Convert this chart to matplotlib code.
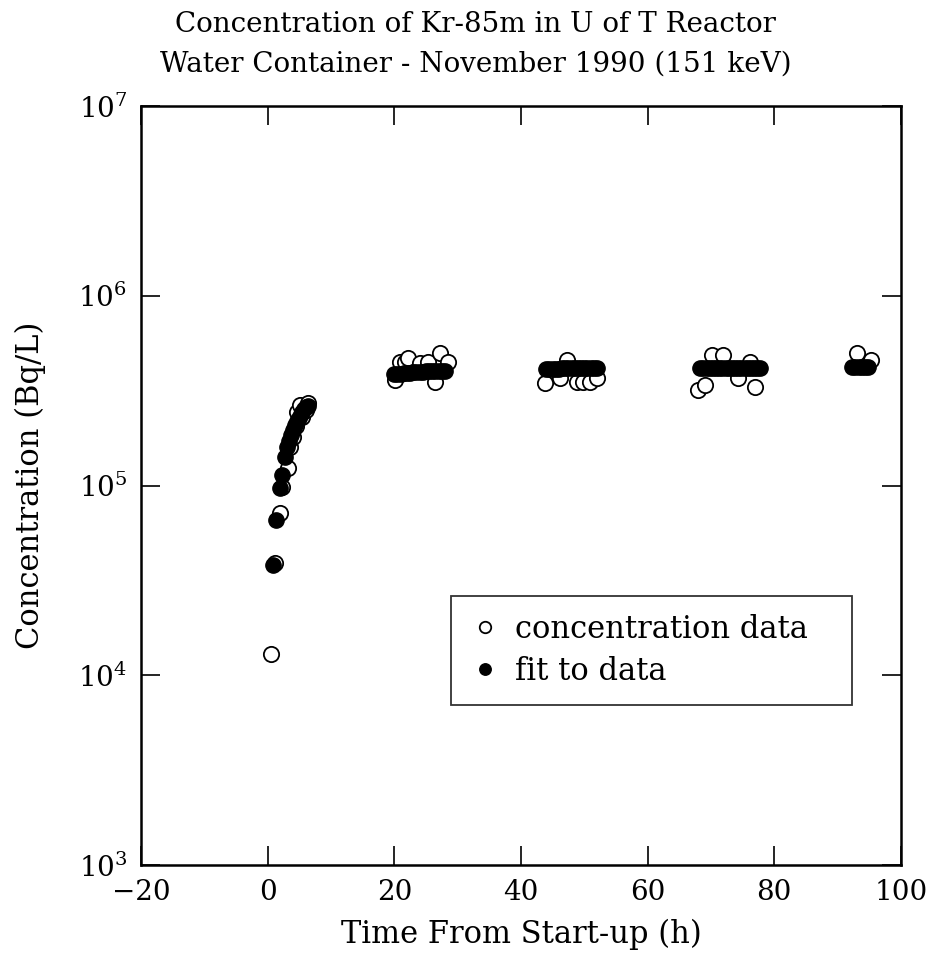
import matplotlib
matplotlib.use("Agg")
import matplotlib.pyplot as plt

# measured concentration (open circles)
data_t = [0.6, 1.2, 1.9, 2.2, 3.2, 3.5, 4.0, 4.4, 4.6, 5.1, 5.5, 6.0, 6.4,
          20.1, 20.9, 21.7, 22.2, 24.1, 25.3, 26.4, 27.2, 28.5,
          43.8, 46.2, 47.3, 48.9, 49.8, 50.9, 52.0,
          68.0, 69.1, 70.2, 71.9, 74.2, 76.2, 77.0,
          93.1, 95.2]
data_c = [1.3e4, 3.9e4, 7.2e4, 9.8e4, 1.23e5, 1.6e5, 1.8e5, 2.05e5, 2.45e5, 2.65e5, 2.3e5, 2.5e5, 2.72e5,
          3.6e5, 4.5e5, 4.45e5, 4.7e5, 4.4e5, 4.45e5, 3.5e5, 5.0e5, 4.45e5,
          3.47e5, 3.7e5, 4.6e5, 3.5e5, 3.5e5, 3.5e5, 3.7e5,
          3.18e5, 3.4e5, 4.9e5, 4.9e5, 3.7e5, 4.5e5, 3.3e5,
          5.0e5, 4.6e5]

# fitted values (filled circles)
fit_t = [0.8, 1.3, 1.9, 2.3, 2.7, 3.1, 3.4, 3.7, 4.0, 4.3, 4.6, 4.9, 5.2, 5.5, 5.8, 6.1, 6.4,
         20.0, 20.5, 21.0, 21.5, 22.0, 22.5, 23.0, 23.5, 24.0, 24.5, 25.0, 25.5, 26.0, 26.5, 27.0, 27.5, 28.0,
         44.0, 44.5, 45.0, 45.5, 46.0, 46.5, 47.0, 47.5, 48.0, 48.5, 49.0, 49.5, 50.0, 50.5, 51.0, 51.5, 52.0,
         68.3, 68.8, 69.3, 69.8, 70.3, 70.8, 71.3, 71.8, 72.3, 72.8, 73.3, 73.8, 74.3, 74.8, 75.3, 75.8,
         76.3, 76.8, 77.3, 77.8,
         92.3, 92.8, 93.3, 93.8, 94.3, 94.8]
fit_c = [3.8e4, 6.6e4, 9.7e4, 1.13e5, 1.41e5, 1.6e5, 1.72e5, 1.85e5, 1.97e5, 2.08e5, 2.18e5, 2.28e5,
         2.37e5, 2.45e5, 2.52e5, 2.58e5, 2.63e5,
         3.85e5, 3.87e5, 3.89e5, 3.91e5, 3.92e5, 3.94e5, 3.95e5, 3.96e5, 3.97e5, 3.98e5, 3.99e5, 4.0e5,
         4.01e5, 4.02e5, 4.02e5, 4.03e5, 4.03e5,
         4.12e5, 4.12e5, 4.13e5, 4.13e5, 4.13e5, 4.14e5, 4.14e5, 4.14e5, 4.15e5, 4.15e5, 4.15e5, 4.15e5,
         4.15e5, 4.16e5, 4.16e5, 4.16e5, 4.16e5,
         4.16e5, 4.16e5, 4.16e5, 4.16e5, 4.16e5, 4.16e5, 4.16e5, 4.16e5, 4.16e5, 4.16e5, 4.16e5, 4.16e5,
         4.16e5, 4.16e5, 4.16e5, 4.16e5, 4.16e5, 4.16e5, 4.16e5, 4.16e5,
         4.2e5, 4.2e5, 4.2e5, 4.2e5, 4.2e5, 4.2e5]

x_ticks = [-20, 0, 20, 40, 60, 80, 100]
y_ticks = [1e3, 1e4, 1e5, 1e6, 1e7]

plt.rcParams['font.family'] = ['DejaVu Serif']
plt.rcParams['mathtext.fontset'] = 'dejavuserif'

fig = plt.figure(figsize=(9.35, 9.75), dpi=100)
ax = fig.add_axes([0.1508, 0.1128, 0.8128, 0.7785])

ax.plot(data_t, data_c, 'o', mfc='white', mec='black', mew=1.3, ms=11, ls='none',
        label='concentration data', zorder=2)
ax.plot(fit_t, fit_c, 'o', color='black', ms=11, ls='none', label='fit to data', zorder=3)

ax.set_yscale('log')
ax.set_xlim(-20, 100)
ax.set_ylim(1e3, 1e7)
ax.set_xticks(x_ticks)
ax.set_yticks(y_ticks)
ax.minorticks_off()
ax.tick_params(direction='in', length=14, width=1.2, top=True, right=True,
               labelsize=20, pad=10)
for s in ax.spines.values():
    s.set_linewidth(1.8)

ax.set_xlabel('Time From Start-up (h)', fontsize=22, labelpad=9)
ax.set_ylabel('Concentration (Bq/L)', fontsize=22, labelpad=23)

# two-line title, placed like the original (slightly left of the axes centre)
fig.text(0.509, 0.975, 'Concentration of Kr-85m in U of T Reactor', fontsize=20,
         ha='center', va='center')
fig.text(0.509, 0.934, 'Water Container - November 1990 (151 keV)', fontsize=20,
         ha='center', va='center')

leg = ax.legend(loc='lower left', bbox_to_anchor=(0.408, 0.211, 0.528, 0.143), mode='expand',
                fontsize=22, frameon=True, fancybox=False, edgecolor='black',
                handletextpad=0.5, borderpad=0.6, labelspacing=0.35, borderaxespad=0,
                markerscale=0.75, handlelength=1.0)
leg.get_frame().set_linewidth(1.3)

fig.savefig('out.png', dpi=100)
